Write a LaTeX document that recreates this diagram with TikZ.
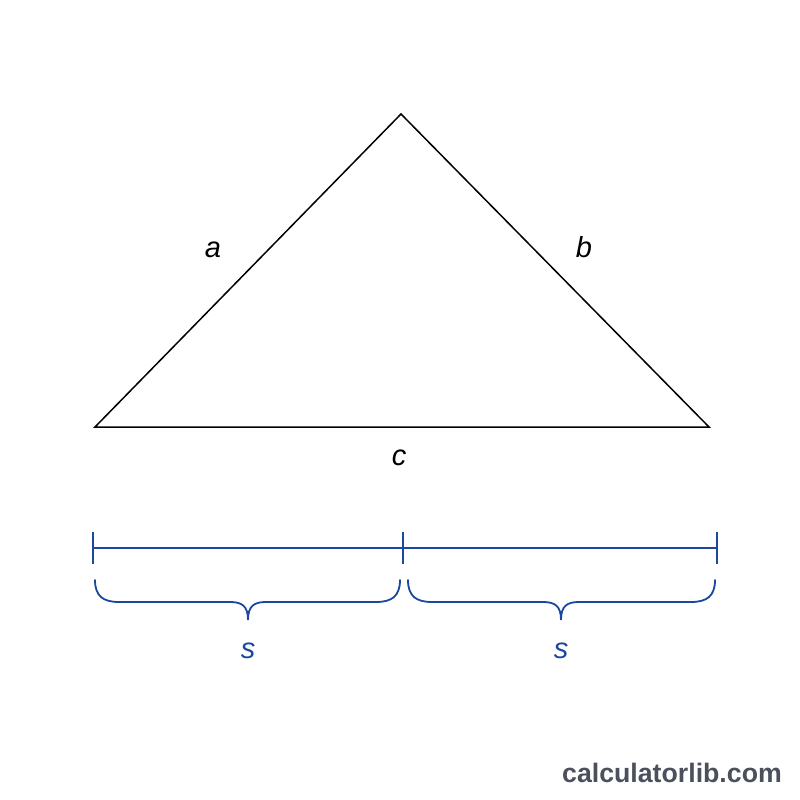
\documentclass[tikz,border=0pt]{standalone}
\usepackage{fontspec}
\setmainfont{Liberation Sans}
\begin{document}
\begin{tikzpicture}[x=1pt,y=-1pt,
  edge/.style={line width=1.5pt,black,line join=miter},
  lbl/.style={font=\fontsize{29}{34}\selectfont\itshape,inner sep=0pt},
  blueline/.style={line width=1.8pt,color=segblue},
  bluelbl/.style={lbl,text=segblue}]
\definecolor{segblue}{HTML}{1B47A0}
\definecolor{wmgray}{HTML}{4A505C}
\useasboundingbox (0,0) rectangle (800,800);
\fill[white] (0,0) rectangle (800,800);
% triangle
\coordinate (A) at (95,427);
\coordinate (B) at (401,114);
\coordinate (C) at (709,427);
\draw[edge] (A) -- (B) -- (C) -- cycle;
\node[lbl] (la) at (213,250) {a};
\node[lbl] (lb) at (584,247) {b};
\node[lbl] (lc) at (399,458) {c};
% segment
\coordinate (S0) at (93,548);
\coordinate (S1) at (403,548);
\coordinate (S2) at (717,548);
\draw[blueline] (S0) -- (S2);
\draw[blueline] (93,532) -- (93,564);
\draw[blueline] (403,532) -- (403,564);
\draw[blueline] (717,532) -- (717,564);
% braces
\foreach \l/\r/\m in {95/400/248, 408/715/561}{
  \draw[blueline,line cap=round]
    (\l,580) .. controls (\l,596) and (\l+8,602) .. (\l+24,602)
    -- (\m-18,602) .. controls (\m-6,602) and (\m,606) .. (\m,620)
    .. controls (\m,606) and (\m+6,602) .. (\m+18,602)
    -- (\r-24,602) .. controls (\r-8,602) and (\r,596) .. (\r,580);
}
\node[bluelbl] (s1) at (248,651) {s};
\node[bluelbl] (s2) at (561,651) {s};
% watermark
\node[font=\fontsize{26.7}{30}\selectfont\bfseries,text=wmgray,inner sep=0pt,anchor=base] (wm) at (672,782) {calculatorlib.com};
\end{tikzpicture}
\end{document}
